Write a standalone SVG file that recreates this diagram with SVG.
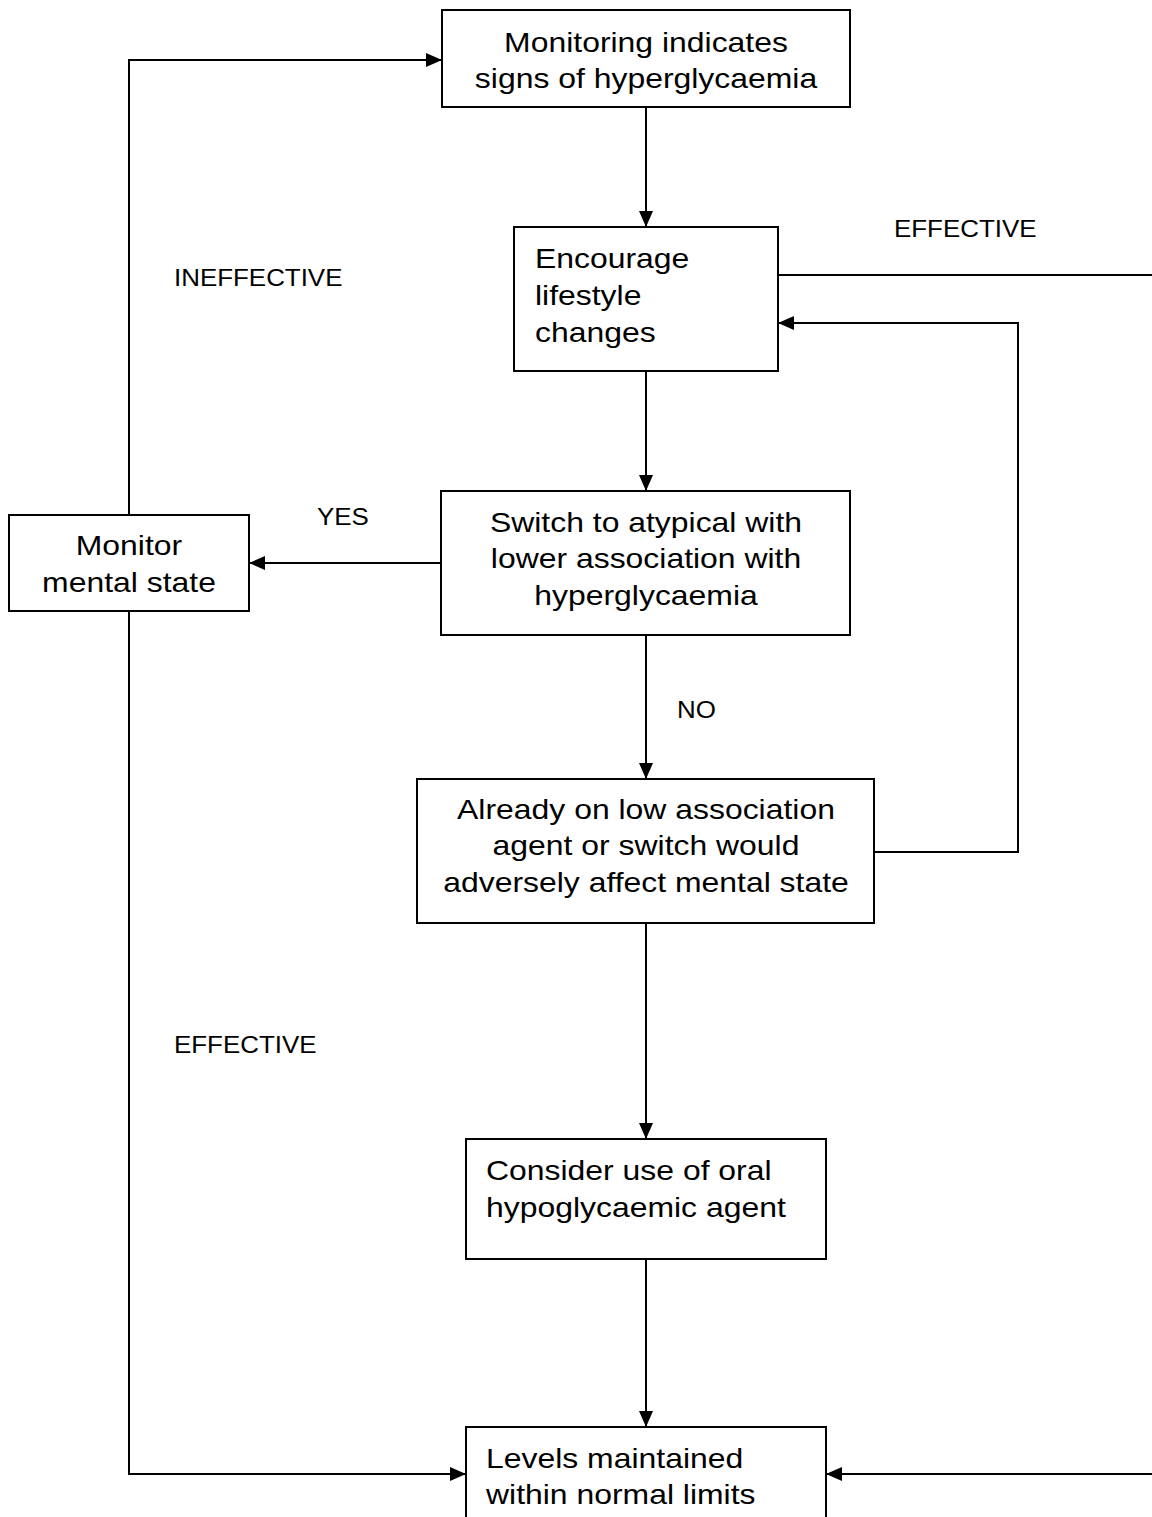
<svg xmlns="http://www.w3.org/2000/svg" width="1152" height="1517" viewBox="0 0 1152 1517">
<defs>
<marker id="ah" markerWidth="16" markerHeight="14" refX="16" refY="7" orient="auto" markerUnits="userSpaceOnUse">
<path d="M0,0 L16,7 L0,14 Z" fill="#000"/>
</marker>
<style>
.box{fill:#fff;stroke:#000;stroke-width:2}
.t{font-family:"Liberation Sans",Arial,sans-serif;font-size:28.5px;fill:#000}
.c{text-anchor:middle}
.lbl{font-family:"Liberation Sans",Arial,sans-serif;font-size:24px;fill:#000}
.ln{fill:none;stroke:#000;stroke-width:2}
</style>
</defs>
<rect width="1152" height="1517" fill="#fff"/>
<g id="connectors">
<path class="ln" d="M646,107 V227" marker-end="url(#ah)"/>
<path class="ln" d="M646,371 V491" marker-end="url(#ah)"/>
<path class="ln" d="M646,635 V779" marker-end="url(#ah)"/>
<path class="ln" d="M646,923 V1139" marker-end="url(#ah)"/>
<path class="ln" d="M646,1259 V1427" marker-end="url(#ah)"/>
<path class="ln" d="M441,563 H249" marker-end="url(#ah)"/>
<path class="ln" d="M129,515 V60 H442" marker-end="url(#ah)"/>
<path class="ln" d="M129,611 V1474 H466" marker-end="url(#ah)"/>
<path class="ln" d="M874,852 H1018 V323 H778" marker-end="url(#ah)"/>
<path class="ln" d="M778,275 H1152"/>
<path class="ln" d="M1152,1474 H826" marker-end="url(#ah)"/>
<text class="lbl" transform="translate(174 286) scale(1.08 1)">INEFFECTIVE</text>
<text class="lbl" transform="translate(894 237) scale(1.08 1)">EFFECTIVE</text>
<text class="lbl" transform="translate(174 1053) scale(1.08 1)">EFFECTIVE</text>
<text class="lbl" transform="translate(317 525) scale(1.08 1)">YES</text>
<text class="lbl" transform="translate(677 718) scale(1.08 1)">NO</text>
</g>
<g id="n1">
<rect class="box" x="442" y="10" width="408" height="97"/>
<text class="t c" transform="translate(646 52) scale(1.12 1)">Monitoring indicates</text>
<text class="t c" transform="translate(646 88) scale(1.12 1)">signs of hyperglycaemia</text>
</g>
<g id="n2">
<rect class="box" x="514" y="227" width="264" height="144"/>
<text class="t" transform="translate(535 268) scale(1.12 1)">Encourage</text>
<text class="t" transform="translate(535 305) scale(1.12 1)">lifestyle</text>
<text class="t" transform="translate(535 342) scale(1.12 1)">changes</text>
</g>
<g id="n3">
<rect class="box" x="441" y="491" width="409" height="144"/>
<text class="t c" transform="translate(646 532) scale(1.12 1)">Switch to atypical with</text>
<text class="t c" transform="translate(646 568) scale(1.12 1)">lower association with</text>
<text class="t c" transform="translate(646 605) scale(1.12 1)">hyperglycaemia</text>
</g>
<g id="n4">
<rect class="box" x="9" y="515" width="240" height="96"/>
<text class="t c" transform="translate(129 555) scale(1.12 1)">Monitor</text>
<text class="t c" transform="translate(129 592) scale(1.12 1)">mental state</text>
</g>
<g id="n5">
<rect class="box" x="417" y="779" width="457" height="144"/>
<text class="t c" transform="translate(646 819) scale(1.12 1)">Already on low association</text>
<text class="t c" transform="translate(646 855) scale(1.12 1)">agent or switch would</text>
<text class="t c" transform="translate(646 892) scale(1.12 1)">adversely affect mental state</text>
</g>
<g id="n6">
<rect class="box" x="466" y="1139" width="360" height="120"/>
<text class="t" transform="translate(486 1180) scale(1.12 1)">Consider use of oral</text>
<text class="t" transform="translate(486 1217) scale(1.12 1)">hypoglycaemic agent</text>
</g>
<g id="n7">
<rect class="box" x="466" y="1427" width="360" height="120"/>
<text class="t" transform="translate(486 1468) scale(1.12 1)">Levels maintained</text>
<text class="t" transform="translate(486 1504) scale(1.12 1)">within normal limits</text>
</g>
</svg>
